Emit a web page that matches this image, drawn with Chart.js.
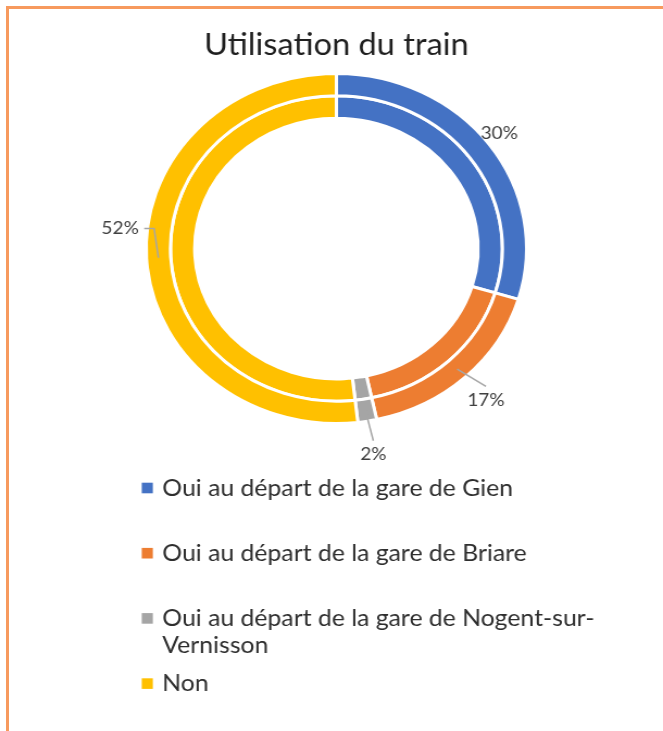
<!DOCTYPE html>
<html>
<head>
<meta charset="utf-8">
<script src="https://cdn.jsdelivr.net/npm/chart.js@4/dist/chart.umd.min.js"></script>
<style>
  body { margin: 0; background: #fff; overflow: hidden; }
  #frame {
    position: absolute; left: 6px; top: 6px; width: 700px; height: 760px;
    border-left: 3px solid #F79A5E; border-top: 3px solid #F79A5E;
  }
  #wrap {
    position: absolute; left: 0; top: 0; width: 610px; height: 731px;
    transform: scaleX(1.0869); transform-origin: 0 0;
  }
</style>
</head>
<body>
<div id="frame"></div>
<div id="wrap"><canvas id="chart"></canvas></div>
<script>
const categories = [
    'Oui au départ de la gare de Gien',
    'Oui au départ de la gare de Briare',
    'Oui au départ de la gare de Nogent-sur-Vernisson',
    'Non'
];
const outerShares = [29.7, 16.9, 1.6, 51.8];
const innerShares = [29.7, 16.9, 1.6, 51.8];
const colors = ['#4472C4', '#ED7D31', '#A5A5A5', '#FFC000'];

// where each % label sits around the outer ring (radius px, extra turn in degrees)
const labelSpots = [
    { r: 189, turn: -1, leader: 'none' },
    { r: 205, turn: 0.5, leader: 'straight' },
    { r: 209, turn: 0, leader: 'straight' },
    { r: 200, turn: 9, leader: 'elbow' }
];

const FONT = 'Lato';

const pctLabels = {
    id: 'pctLabels',
    afterDatasetsDraw(chart) {
        const ctx = chart.ctx;
        const meta = chart.getDatasetMeta(0);
        const data = chart.data.datasets[0].data;
        const total = data.reduce((a, b) => a + b, 0);
        ctx.save();
        ctx.font = '17.5px ' + FONT;
        ctx.textAlign = 'center';
        ctx.textBaseline = 'middle';
        meta.data.forEach((arc, i) => {
            const spot = labelSpots[i];
            const mid = (arc.startAngle + arc.endAngle) / 2;
            const a = mid + spot.turn * Math.PI / 180;
            const lx = arc.x + Math.cos(a) * spot.r;
            const ly = arc.y + Math.sin(a) * spot.r;
            const ax = arc.x + Math.cos(mid) * 164;
            const ay = arc.y + Math.sin(mid) * 164;
            const text = Math.round(data[i] / total * 100) + '%';
            const w = ctx.measureText(text).width;

            ctx.strokeStyle = '#A6A6A6';
            ctx.lineWidth = 1.5;
            if (spot.leader === 'straight') {
                ctx.beginPath();
                ctx.moveTo(ax, ay);
                ctx.lineTo(lx, ly - 14);
                ctx.stroke();
            } else if (spot.leader === 'elbow') {
                ctx.beginPath();
                ctx.moveTo(ax, ay);
                ctx.lineTo(ax - 4, ly);
                ctx.lineTo(lx + w / 2 + 5, ly);
                ctx.stroke();
            }
            ctx.fillStyle = '#404040';
            ctx.fillText(text, lx, ly);
        });
        ctx.restore();
    }
};

const boxLegend = {
    id: 'boxLegend',
    afterDraw(chart) {
        const ctx = chart.ctx;
        const ds = chart.data.datasets[0];
        ctx.save();
        ctx.font = '22.8px ' + FONT;
        ctx.textBaseline = 'alphabetic';
        ctx.textAlign = 'left';
        chart.data.labels.forEach((label, i) => {
            const cy = 488 + i * 65.2;
            ctx.fillStyle = ds.backgroundColor[i];
            ctx.fillRect(130.4, cy - 5.3, 10.2, 10.6);

            // wrap after spaces / hyphens
            const parts = label.split(/(?<=[ -])/);
            const lines = [];
            let line = '';
            parts.forEach(p => {
                if (line && ctx.measureText(line + p).width > 420) {
                    lines.push(line);
                    line = p;
                } else {
                    line += p;
                }
            });
            lines.push(line);
            ctx.fillStyle = '#2E2E2E';
            lines.forEach((l, k) => ctx.fillText(l.trim(), 149.3, cy + 7.5 + k * 27.5));
        });
        ctx.restore();
    }
};

new Chart(document.getElementById('chart'), {
    type: 'doughnut',
    data: {
        labels: categories,
        datasets: [
            { label: 'externe', data: outerShares, backgroundColor: colors, borderColor: '#ffffff', borderWidth: 3 },
            { label: 'interne', data: innerShares, backgroundColor: colors, borderColor: '#ffffff', borderWidth: 3 }
        ]
    },
    options: {
        responsive: true,
        maintainAspectRatio: false,
        animation: false,
        cutout: '74.5%',
        radius: 175,
        layout: { padding: { left: 9, right: 0, top: 0, bottom: 309 } },
        plugins: {
            legend: { display: false },
            tooltip: { enabled: false },
            title: {
                display: true,
                text: 'Utilisation du train',
                color: '#1F1F1F',
                font: { family: FONT, size: 30, weight: 'normal' },
                padding: { top: 27, bottom: 12 }
            }
        }
    },
    plugins: [pctLabels, boxLegend]
});
</script>
</body>
</html>
